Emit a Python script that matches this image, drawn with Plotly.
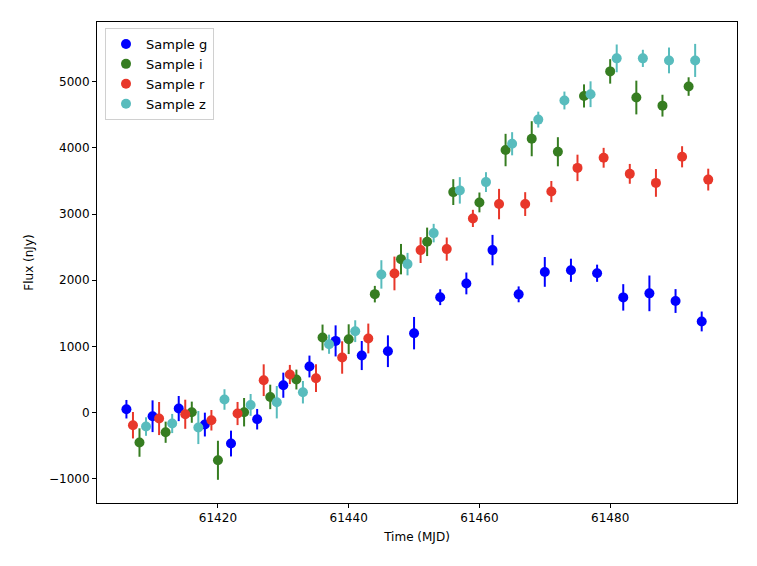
import plotly.graph_objects as go

# ---- data ----
g_t = [61406 + 4 * k for k in range(23)]
g_flux = [50, -56, 60, -182, -469, -101, 413, 696, 1083, 862, 927, 1200, 1744, 1952,
          2456, 1787, 2126, 2151, 2106, 1741, 1802, 1686, 1377]
g_err = [140, 240, 190, 180, 195, 155, 190, 165, 235, 220, 240, 245, 120, 165, 230,
         120, 225, 175, 130, 200, 270, 180, 150]

r_t = [61407 + 4 * k for k in range(23)]
r_flux = [-192, -91, -26, -117, -15, 489, 575, 519, 832, 1120, 2103, 2456, 2471, 2935,
          3152, 3152, 3341, 3699, 3852, 3609, 3472, 3867, 3522]
r_err = [200, 250, 220, 155, 175, 240, 145, 210, 245, 225, 255, 195, 175, 130, 230,
         180, 160, 200, 150, 150, 210, 160, 165]

i_t = [61408 + 4 * k for k in range(22)]
i_flux = [-454, -298, 5, -722, 5, 236, 499, 1135, 1109, 1790, 2319, 2581, 3333, 3177,
          3969, 4140, 3943, 4787, 5158, 4763, 4640, 4929]
i_err = [215, 160, 160, 295, 215, 185, 150, 195, 225, 125, 230, 215, 195, 150, 245,
         265, 220, 175, 185, 255, 165, 140]

z_t = [61409 + 4 * k for k in range(22)]
z_flux = [-212, -166, -227, 197, 115, 156, 307, 1033, 1230, 2088, 2244, 2713, 3359, 3484,
          4064, 4429, 4718, 4813, 5355, 5355, 5324, 5324]
z_err = [140, 145, 250, 155, 165, 245, 170, 145, 165, 215, 170, 140, 200, 150, 175,
         120, 135, 195, 210, 130, 195, 250]

series = [
    ("Sample g", g_t, g_flux, g_err, "#0000ff"),
    ("Sample i", i_t, i_flux, i_err, "#367d21"),
    ("Sample r", r_t, r_flux, r_err, "#e8372a"),
    ("Sample z", z_t, z_flux, z_err, "#58bcbd"),
]

y_ticks = [-1000, 0, 1000, 2000, 3000, 4000, 5000]
x_ticks = [61420, 61440, 61460, 61480]

fig = go.Figure()
for name, t, f, e, c in series:
    fig.add_trace(go.Scatter(
        x=t, y=f, name=name, mode="markers",
        marker=dict(color=c, size=10, line=dict(width=0)),
        error_y=dict(type="data", array=e, visible=True, color=c, thickness=2, width=0),
    ))

font = "DejaVu Sans"
fig.update_layout(
    width=757, height=566,
    margin=dict(l=97, r=20, t=22, b=63),
    paper_bgcolor="white", plot_bgcolor="white",
    font=dict(family=font, size=12, color="black"),
    showlegend=True,
    legend=dict(x=0.0125, y=0.9875, xanchor="left", yanchor="top",
                bgcolor="rgba(255,255,255,0.8)", bordercolor="#d0d0d0", borderwidth=1,
                font=dict(family=font, size=13), tracegroupgap=0, itemwidth=30,
                entrywidth=80),
)
fig.update_xaxes(
    range=[61401.5, 61499.4], tickvals=x_ticks, ticktext=[str(v) for v in x_ticks],
    showgrid=False, zeroline=False, showline=True, mirror=True, linecolor="black",
    linewidth=1, ticks="outside", ticklen=4, tickcolor="black",
    title=dict(text="Time (MJD)", standoff=8, font=dict(size=12)),
    tickfont=dict(size=12),
)
fig.update_yaxes(
    range=[-1368, 5905], tickvals=y_ticks,
    ticktext=[("\u2212" + str(-v)) if v < 0 else str(v) for v in y_ticks],
    showgrid=False, zeroline=False, showline=True, mirror=True, linecolor="black",
    linewidth=1, ticks="outside", ticklen=4, tickcolor="black",
    title=dict(text="Flux (nJy)", standoff=12, font=dict(size=12)),
    tickfont=dict(size=12),
)

fig.write_html("out.html")
